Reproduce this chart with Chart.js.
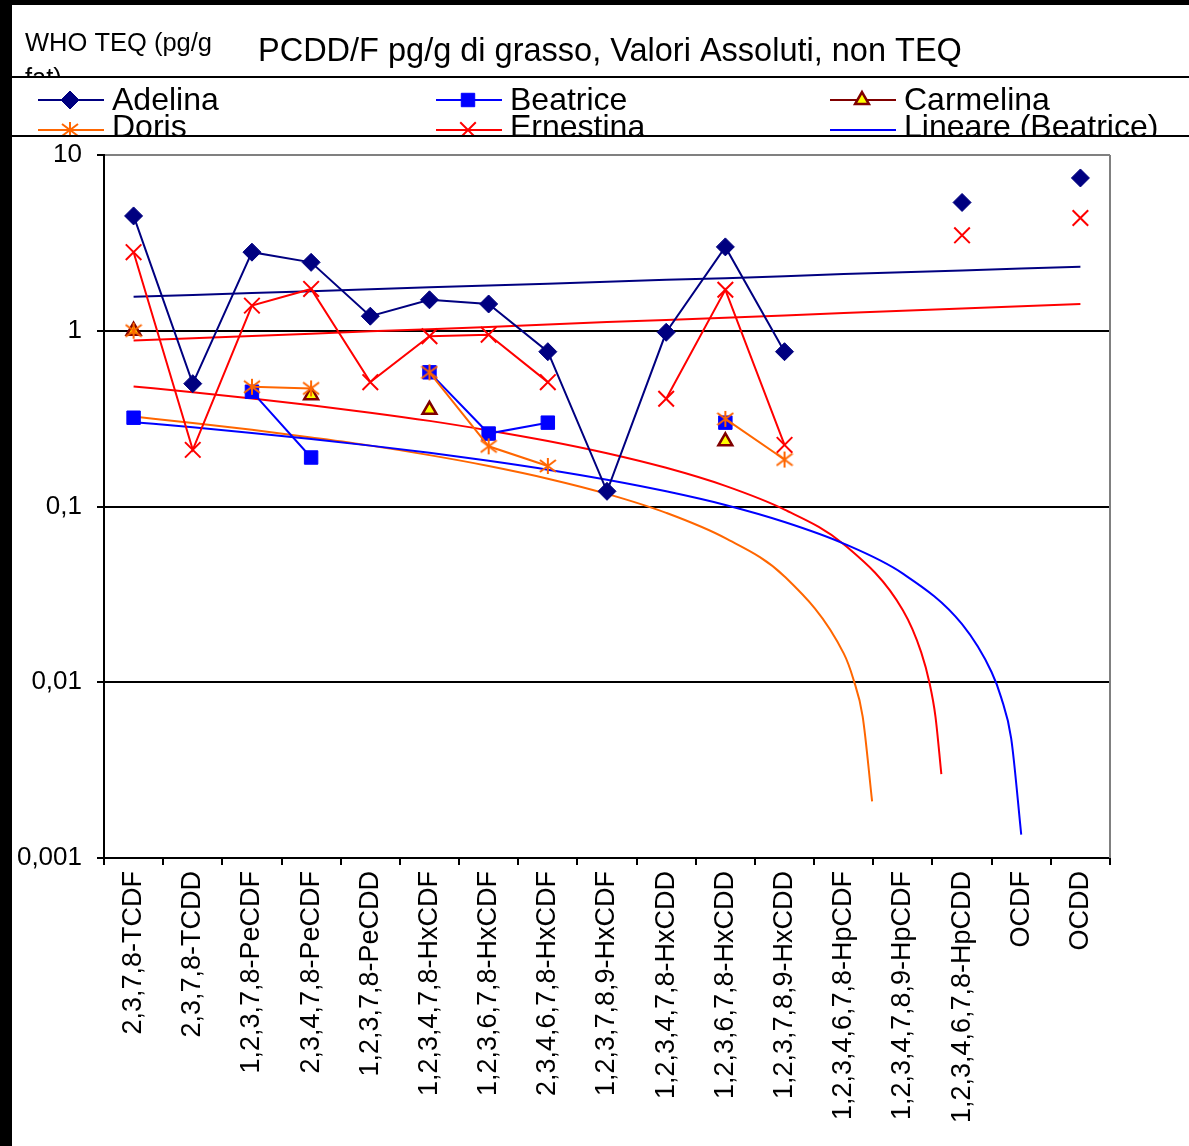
<!DOCTYPE html>
<html>
<head>
<meta charset="utf-8">
<script src="https://cdn.jsdelivr.net/npm/chart.js@4.4.1/dist/chart.umd.min.js"></script>
<style>
html, body { margin: 0; padding: 0; background: #fff; }
#wrap { width: 1189px; height: 1146px; position: relative; }
</style>
</head>
<body>
<div id="wrap"><canvas id="myChart" width="1189" height="1146"></canvas></div>
<script>
// categories (congeners)
var categories = ['2,3,7,8-TCDF', '2,3,7,8-TCDD', '1,2,3,7,8-PeCDF', '2,3,4,7,8-PeCDF', '1,2,3,7,8-PeCDD',
    '1,2,3,4,7,8-HxCDF', '1,2,3,6,7,8-HxCDF', '2,3,4,6,7,8-HxCDF', '1,2,3,7,8,9-HxCDF', '1,2,3,4,7,8-HxCDD',
    '1,2,3,6,7,8-HxCDD', '1,2,3,7,8,9-HxCDD', '1,2,3,4,6,7,8-HpCDF', '1,2,3,4,7,8,9-HpCDF', '1,2,3,4,6,7,8-HpCDD',
    'OCDF', 'OCDD'];

// series values (pg/g di grasso)
var adelina   = [4.5, 0.50, 2.8, 2.45, 1.21, 1.5, 1.42, 0.76, 0.122, 0.98, 3.0, 0.76, null, null, 5.37, null, 7.4];
var beatrice  = [0.32, null, 0.45, 0.19, null, 0.58, 0.26, 0.30, null, null, 0.30, null, null, null, null, null, null];
var carmelina = [1.0, null, null, 0.43, null, 0.355, null, null, null, null, 0.235, null, null, null, null, null, null];
var doris     = [1.0, null, 0.48, 0.47, null, 0.58, 0.22, 0.17, null, null, 0.315, 0.185, null, null, null, null, null];
var ernestina = [2.8, 0.21, 1.39, 1.73, 0.51, 0.93, 0.95, 0.51, null, 0.41, 1.71, 0.224, null, null, 3.49, null, 4.38];

// trend lines (x = category index)
var trendFullX = [0, 1, 2, 3, 4, 5, 6, 7, 8, 9, 10, 11, 12, 13, 14, 15, 16];
var trendAdelinaY = [1.56, 1.60, 1.64, 1.68, 1.72, 1.77, 1.81, 1.85, 1.90, 1.95, 1.99, 2.04, 2.10, 2.15, 2.20, 2.26, 2.31];
var trendErnestinaY = [0.88, 0.907, 0.934, 0.963, 0.992, 1.02, 1.05, 1.085, 1.12, 1.15, 1.185, 1.22, 1.26, 1.30, 1.34, 1.38, 1.42];
var trendBeatriceX = [0, 1, 2, 3, 4, 5, 6, 7, 8, 9, 10, 11, 12, 13, 14, 14.5, 14.66, 14.83, 15];
var trendBeatriceY = [0.302, 0.282, 0.262, 0.242, 0.222, 0.202, 0.182, 0.162, 0.142, 0.122, 0.102, 0.0816, 0.0615, 0.0415, 0.0214, 0.0114, 0.0082, 0.0048, 0.00136];
var trendRedX = [0, 1, 2, 3, 4, 5, 6, 7, 8, 9, 10, 11, 12, 13, 13.31, 13.45, 13.55, 13.65];
var trendRedY = [0.482, 0.447, 0.412, 0.377, 0.342, 0.307, 0.271, 0.236, 0.201, 0.166, 0.131, 0.096, 0.061, 0.0257, 0.0148, 0.0099, 0.0064, 0.0030];
var trendOrangeX = [0, 1, 2, 3, 4, 5, 6, 7, 8, 9, 10, 11, 12, 12.16, 12.32, 12.48];
var trendOrangeY = [0.325, 0.299, 0.273, 0.247, 0.222, 0.196, 0.170, 0.144, 0.118, 0.092, 0.066, 0.040, 0.0146, 0.0105, 0.0064, 0.0021];

// y axis ticks
var yTickValues = [0.001, 0.01, 0.1, 1, 10];
var yTickLabels = ['0,001', '0,01', '0,1', '1', '10'];

var titleText = 'PCDD/F pg/g di grasso, Valori Assoluti, non TEQ';
var axisTitle1 = 'WHO TEQ (pg/g';
var axisTitle2 = 'fat)';

var FONT = "'Liberation Sans', Arial, sans-serif";

function toPoints(xs, ys) {
    var pts = [];
    for (var i = 0; i < xs.length; i++) {
        pts.push({x: xs[i], y: ys[i]});
    }
    return pts;
}

// excel style asterisk marker
function makeAsterisk(color, size) {
    var c = document.createElement('canvas');
    c.width = size; c.height = size;
    var g = c.getContext('2d');
    var m = size / 2, r = size / 2 - 1;
    g.strokeStyle = color;
    g.lineWidth = 2;
    g.beginPath();
    g.moveTo(m, m - r); g.lineTo(m, m + r);
    g.moveTo(m - r, m - r * 0.75); g.lineTo(m + r, m + r * 0.75);
    g.moveTo(m - r, m + r * 0.75); g.lineTo(m + r, m - r * 0.75);
    g.stroke();
    return c;
}
var asterisk = makeAsterisk('#FF6600', 18);

var datasets = [
    {label: 'Adelina', data: adelina, borderColor: '#000080', backgroundColor: '#000080',
        pointStyle: 'rectRot', pointRadius: 9, pointBorderWidth: 1, borderWidth: 2, order: 5},
    {label: 'Beatrice', data: beatrice, borderColor: '#0000FF', backgroundColor: '#0000FF',
        pointStyle: 'rect', pointRadius: 9.5, pointBorderWidth: 1, borderWidth: 2, order: 4},
    {label: 'Carmelina', data: carmelina, borderColor: '#800000', backgroundColor: '#FFFF00',
        pointStyle: 'triangle', pointRadius: 8, pointBorderWidth: 2.5, borderWidth: 2, order: 3},
    {label: 'Doris', data: doris, borderColor: '#FF6600', backgroundColor: '#FF6600',
        pointStyle: asterisk, pointRadius: 9, borderWidth: 2, order: 2},
    {label: 'Ernestina', data: ernestina, borderColor: '#FF0000', backgroundColor: '#FF0000',
        pointStyle: 'crossRot', pointRadius: 11, pointBorderWidth: 2, borderWidth: 2, order: 1},
    {label: 'Lineare (Beatrice)', data: toPoints(trendBeatriceX, trendBeatriceY), xAxisID: 'x2',
        borderColor: '#0000FF', borderWidth: 2, pointRadius: 0, cubicInterpolationMode: 'monotone', order: 10},
    {label: 'Espon. (Adelina)', data: toPoints(trendFullX, trendAdelinaY), xAxisID: 'x2',
        borderColor: '#000080', borderWidth: 2, pointRadius: 0, order: 10},
    {label: 'Espon. (Ernestina)', data: toPoints(trendFullX, trendErnestinaY), xAxisID: 'x2',
        borderColor: '#FF0000', borderWidth: 2, pointRadius: 0, order: 10},
    {label: 'Lineare (rosso)', data: toPoints(trendRedX, trendRedY), xAxisID: 'x2',
        borderColor: '#FF0000', borderWidth: 2, pointRadius: 0, cubicInterpolationMode: 'monotone', order: 10},
    {label: 'Lineare (Doris)', data: toPoints(trendOrangeX, trendOrangeY), xAxisID: 'x2',
        borderColor: '#FF6600', borderWidth: 2, pointRadius: 0, cubicInterpolationMode: 'monotone', order: 10}
];

// legend entries: dataset index and slot
var legendEntries = [
    {ds: 0, x: 38, row: 0}, {ds: 1, x: 436, row: 0}, {ds: 2, x: 830, row: 0},
    {ds: 3, x: 38, row: 1}, {ds: 4, x: 436, row: 1}, {ds: 5, x: 830, row: 1}
];

var excelFrame = {
    id: 'excelFrame',
    beforeDraw: function(chart) {
        var ctx = chart.ctx;
        ctx.save();
        ctx.fillStyle = '#fff';
        ctx.fillRect(0, 0, chart.width, chart.height);
        ctx.restore();
    },
    afterDraw: function(chart) {
        var ctx = chart.ctx;
        var W = chart.width, H = chart.height;
        var area = chart.chartArea;
        ctx.save();

        // right border of plot area
        ctx.strokeStyle = '#808080';
        ctx.lineWidth = 2;
        ctx.beginPath();
        ctx.moveTo(area.right, area.top);
        ctx.lineTo(area.right, area.bottom);
        ctx.stroke();

        // header texts
        ctx.fillStyle = '#000';
        ctx.textBaseline = 'alphabetic';
        ctx.textAlign = 'left';
        ctx.font = '25.5px ' + FONT;
        ctx.fillText(axisTitle1, 25, 51);
        ctx.save();
        ctx.beginPath();
        ctx.rect(0, 0, W, 76);
        ctx.clip();
        ctx.fillText(axisTitle2, 25, 86);
        ctx.restore();
        ctx.font = '32.5px ' + FONT;
        ctx.fillText(titleText, 258, 61);

        // legend box
        ctx.fillStyle = '#fff';
        ctx.fillRect(12, 77, W, 59);
        ctx.save();
        ctx.beginPath();
        ctx.rect(12, 77, W, 58);
        ctx.clip();
        legendEntries.forEach(function(e) {
            var ds = chart.data.datasets[e.ds];
            var ly = e.row === 0 ? 100 : 130;
            var ty = e.row === 0 ? 110 : 137;
            ctx.strokeStyle = ds.borderColor;
            ctx.lineWidth = 2;
            ctx.beginPath();
            ctx.moveTo(e.x, ly);
            ctx.lineTo(e.x + 66, ly);
            ctx.stroke();
            if (ds.pointRadius > 0 && Chart.helpers && Chart.helpers.drawPoint) {
                ctx.fillStyle = ds.backgroundColor;
                ctx.strokeStyle = ds.borderColor;
                ctx.lineWidth = ds.pointBorderWidth || 1;
                Chart.helpers.drawPoint(ctx, {
                    pointStyle: ds.pointStyle, radius: ds.pointRadius, rotation: 0,
                    borderWidth: ds.pointBorderWidth || 1
                }, e.x + 32, ly);
            }
            ctx.fillStyle = '#000';
            ctx.font = '32px ' + FONT;
            ctx.fillText(ds.label, e.x + 74, ty);
        });
        ctx.restore();

        // box lines
        ctx.strokeStyle = '#000';
        ctx.lineWidth = 2;
        ctx.beginPath();
        ctx.moveTo(12, 77); ctx.lineTo(W, 77);
        ctx.moveTo(12, 136); ctx.lineTo(W, 136);
        ctx.stroke();

        // black frame bands (left and top)
        ctx.fillStyle = '#000';
        ctx.fillRect(0, 0, 12, H);
        ctx.fillRect(0, 0, W, 5);
        ctx.restore();
    }
};

const ctx = document.getElementById('myChart');

new Chart(ctx, {
    type: 'line',
    data: {
        labels: categories,
        datasets: datasets
    },
    plugins: [excelFrame],
    options: {
        responsive: false,
        animation: false,
        layout: {padding: {left: 12, top: 155, right: 79, bottom: 0}},
        elements: {line: {tension: 0}},
        plugins: {
            legend: {display: false},
            title: {display: false},
            tooltip: {enabled: false}
        },
        scales: {
            x: {
                type: 'category',
                offset: true,
                afterFit: function(scale) { scale.height = 288; },
                ticks: {
                    autoSkip: false, minRotation: 90, maxRotation: 90, padding: 6,
                    color: '#000', font: {family: FONT, size: 27}
                },
                grid: {drawOnChartArea: false, offset: true, tickLength: 7, tickColor: '#000', lineWidth: 2},
                border: {color: '#000', width: 2}
            },
            x2: {
                type: 'linear', min: -0.5, max: 16.5, display: false
            },
            y: {
                type: 'logarithmic',
                min: 0.001,
                max: 10,
                afterBuildTicks: function(scale) {
                    scale.ticks = yTickValues.map(function(v) { return {value: v}; });
                },
                afterFit: function(scale) { scale.width = 92; },
                ticks: {
                    padding: 15, color: '#000', font: {family: FONT, size: 26},
                    callback: function(value, index) { return yTickLabels[index]; }
                },
                grid: {
                    color: function(c) { return c.tick && c.tick.value === 10 ? '#808080' : '#000'; },
                    lineWidth: 2, tickLength: 7, tickColor: '#000'
                },
                border: {color: '#000', width: 2}
            }
        }
    }
});
</script>
</body>
</html>
